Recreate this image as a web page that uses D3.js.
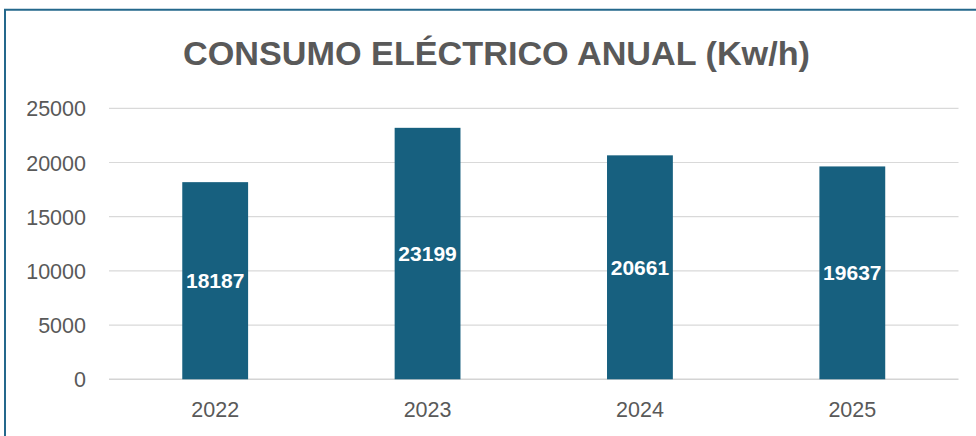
<!DOCTYPE html>
<html>
<head>
<meta charset="utf-8">
<script src="https://cdn.jsdelivr.net/npm/d3@7"></script>
<style>
  html, body { margin: 0; padding: 0; background: #fff; }
  svg { display: block; }
</style>
</head>
<body>
<svg id="chart" width="976" height="436"></svg>
<script>
const title = "CONSUMO ELÉCTRICO ANUAL (Kw/h)";
const categories = ["2022", "2023", "2024", "2025"];
const values = [18187, 23199, 20661, 19637];
const yTicks = [0, 5000, 10000, 15000, 20000, 25000];

const W = 976, H = 436;
const margin = { left: 109, right: 17.5, top: 108.3, bottom: 56.7 };
const svg = d3.select("#chart");

svg.append("rect").attr("width", W).attr("height", H).attr("fill", "#fff");

// outer frame
svg.append("path")
  .attr("d", `M5,${H + 5} L5,9.8 L${W + 5},9.8`)
  .attr("fill", "none").attr("stroke", "#24688c").attr("stroke-width", 2);

const x = d3.scaleBand()
  .domain(categories)
  .range([margin.left, W - margin.right])
  .paddingInner(0.69)
  .paddingOuter(0.345);

const y = d3.scaleLinear()
  .domain([0, 25000])
  .range([H - margin.bottom, margin.top]);

// gridlines
svg.append("g")
  .selectAll("line").data(yTicks).join("line")
  .attr("x1", margin.left).attr("x2", W - margin.right)
  .attr("y1", d => y(d)).attr("y2", d => y(d))
  .attr("stroke", d => d === 0 ? "#d4d4d4" : "#d9d9d9")
  .attr("stroke-width", d => d === 0 ? 1.5 : 1.2);

// y axis labels
const yAxis = d3.axisLeft(y).tickValues(yTicks).tickSize(0).tickPadding(0).tickFormat(d3.format("d"));
const gy = svg.append("g").attr("transform", "translate(86,0)").call(yAxis);
gy.select(".domain").remove();
gy.selectAll("text")
  .attr("fill", "#595959")
  .attr("font-family", "'Liberation Sans', Arial, sans-serif")
  .attr("font-size", 21.5)
  .attr("dy", "0.35em");

// x axis labels
const xAxis = d3.axisBottom(x).tickSize(0).tickPadding(0);
const gx = svg.append("g").attr("transform", `translate(0,${H - margin.bottom})`).call(xAxis);
gx.select(".domain").remove();
gx.selectAll("text")
  .attr("fill", "#595959")
  .attr("font-family", "'Liberation Sans', Arial, sans-serif")
  .attr("font-size", 21.5)
  .attr("dy", null)
  .attr("y", 38);

// bars
svg.append("g")
  .selectAll("rect").data(values).join("rect")
  .attr("x", (d, i) => x(categories[i]))
  .attr("width", x.bandwidth())
  .attr("y", d => y(d))
  .attr("height", d => y(0) - y(d))
  .attr("fill", "#17607f");

// value labels
svg.append("g")
  .selectAll("text").data(values).join("text")
  .attr("x", (d, i) => x(categories[i]) + x.bandwidth() / 2)
  .attr("y", d => y(d / 2) + 7.5)
  .attr("text-anchor", "middle")
  .attr("fill", "#fff")
  .attr("font-family", "'Liberation Sans', Arial, sans-serif")
  .attr("font-weight", "bold")
  .attr("font-size", 21)
  .text(d => d);

// title
svg.append("text")
  .attr("x", 496.5).attr("y", 65)
  .attr("text-anchor", "middle")
  .attr("fill", "#595959")
  .attr("font-family", "'Liberation Sans', Arial, sans-serif")
  .attr("font-weight", "bold")
  .attr("font-size", 33)
  .attr("textLength", 627)
  .attr("lengthAdjust", "spacingAndGlyphs")
  .text(title);
</script>
</body>
</html>
